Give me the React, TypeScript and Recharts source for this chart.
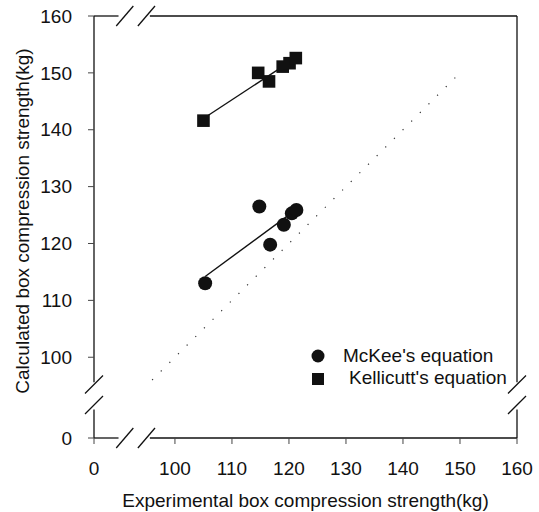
import { ScatterChart, Scatter, XAxis, YAxis, ReferenceLine, Legend } from "recharts";

// 85.8 stands for the "0" that sits before the axis break
const ORIGIN = 85.8;
const xTicks = [ORIGIN, 100, 110, 120, 130, 140, 150, 160];
const yTicks = [ORIGIN, 100, 110, 120, 130, 140, 150, 160];

const mckeeX = [105.3, 114.8, 116.7, 119.1, 120.5, 121.3];
const mckeeY = [113.0, 126.5, 119.8, 123.3, 125.3, 125.9];
const kellicuttX = [105.0, 114.6, 116.5, 118.9, 120.1, 121.2];
const kellicuttY = [141.6, 150.0, 148.5, 151.1, 151.7, 152.6];
const identityX = [96, 150];

const xBreaks = [91.2, 95.0];
const yBreaks = [91.6, 95.2];
const xGap = [90.1, 95.6];
const yGap = [90.8, 95.6];

const mckee = mckeeX.map((x, i) => ({ x, y: mckeeY[i] }));
const kellicutt = kellicuttX.map((x, i) => ({ x, y: kellicuttY[i] }));
const identity = identityX.map((x) => ({ x, y: x }));

const font = "'Liberation Sans', Arial, sans-serif";
const ink = "#111";
const fs = 19;

const Dot = (p: any) => <circle cx={p.cx} cy={p.cy} r={7} fill={ink} />;
const Sq = (p: any) => <rect x={p.cx - 6.3} y={p.cy - 6.3} width={12.6} height={12.6} fill={ink} />;
const Nothing = () => <g />;

const LegendBox = () => (
  <svg width={220} height={52} style={{ fontFamily: font, fontSize: fs }}>
    <circle cx={13} cy={16} r={6.5} fill={ink} />
    <text x={38} y={22} fill={ink}>McKee's equation</text>
    <rect x={7} y={33} width={12} height={12} fill={ink} />
    <text x={44} y={44} fill={ink}>Kellicutt's equation</text>
  </svg>
);

export default function App() {
  const axisStroke = { stroke: ink, strokeWidth: 1.3 };
  const seg = (a: [number, number], b: [number, number], k: string) => (
    <ReferenceLine
      key={k}
      segment={[{ x: a[0], y: a[1] }, { x: b[0], y: b[1] }]}
      ifOverflow="visible"
      {...axisStroke}
    />
  );
  const lines = [
    seg([ORIGIN, ORIGIN], [xGap[0], ORIGIN], "b1"),
    seg([xGap[1], ORIGIN], [160, ORIGIN], "b2"),
    seg([ORIGIN, 160], [xGap[0], 160], "t1"),
    seg([xGap[1], 160], [160, 160], "t2"),
    seg([ORIGIN, ORIGIN], [ORIGIN, yGap[0]], "l1"),
    seg([ORIGIN, yGap[1]], [ORIGIN, 160], "l2"),
    seg([160, ORIGIN], [160, yGap[0]], "r1"),
    seg([160, yGap[1]], [160, 160], "r2"),
    ...xBreaks.flatMap((bx, i) => [
      seg([bx - 1.5, ORIGIN - 1.76], [bx + 1.5, ORIGIN + 1.76], "xb" + i),
      seg([bx - 1.5, 160 - 1.76], [bx + 1.5, 160 + 1.76], "xt" + i),
    ]),
    ...yBreaks.flatMap((by, i) => [
      seg([ORIGIN - 1.58, by - 1.58], [ORIGIN + 1.58, by + 1.58], "yl" + i),
      seg([160 - 1.58, by - 1.58], [160 + 1.58, by + 1.58], "yr" + i),
    ]),
  ];

  return (
    <div style={{ position: "absolute", left: 0, top: 0, background: "#fff" }}>
      <ScatterChart width={539} height={512} margin={{ top: 16, right: 22, bottom: 0, left: 0 }}>
        <XAxis
          type="number"
          dataKey="x"
          domain={[ORIGIN, 160]}
          ticks={xTicks}
          allowDataOverflow
          height={74}
          axisLine={false}
          tickSize={6}
          tickMargin={18}
          tickLine={{ stroke: "#444" }}
          tickFormatter={(v: number) => (v < 90 ? "0" : String(v))}
          tick={{ fill: ink, fontSize: fs, fontFamily: font }}
          label={{
            value: "Experimental box compression strength(kg)",
            position: "insideBottom",
            offset: 5,
            fill: ink,
            fontSize: fs,
            fontFamily: font,
          }}
        />
        <YAxis
          type="number"
          dataKey="y"
          domain={[ORIGIN, 160]}
          ticks={yTicks}
          allowDataOverflow
          width={94}
          axisLine={false}
          tickSize={6}
          tickMargin={16}
          tickLine={{ stroke: "#444" }}
          tickFormatter={(v: number) => (v < 90 ? "0" : String(v))}
          tick={{ fill: ink, fontSize: fs, fontFamily: font }}
          label={{
            value: "Calculated box compression strength(kg)",
            angle: -90,
            position: "insideLeft",
            offset: 22,
            dy: -6,
            fill: ink,
            fontSize: fs,
            fontFamily: font,
            style: { textAnchor: "middle" },
          }}
        />
        {lines}
        <Scatter
          name="identity"
          data={identity}
          legendType="none"
          shape={Nothing}
          line={{ stroke: "#333", strokeWidth: 1.2, strokeDasharray: "1.2 11" }}
          isAnimationActive={false}
        />
        <Scatter
          name="McKee's equation"
          data={mckee}
          shape={Dot}
          line={{ stroke: ink, strokeWidth: 1.4 }}
          lineType="fitting"
          isAnimationActive={false}
        />
        <Scatter
          name="Kellicutt's equation"
          data={kellicutt}
          shape={Sq}
          line={{ stroke: ink, strokeWidth: 1.4 }}
          lineType="fitting"
          isAnimationActive={false}
        />
        <Legend
          layout="vertical"
          align="center"
          verticalAlign="middle"
          content={LegendBox}
          wrapperStyle={{ left: 305, top: 340, width: 220, height: 52 }}
        />
      </ScatterChart>
    </div>
  );
}
